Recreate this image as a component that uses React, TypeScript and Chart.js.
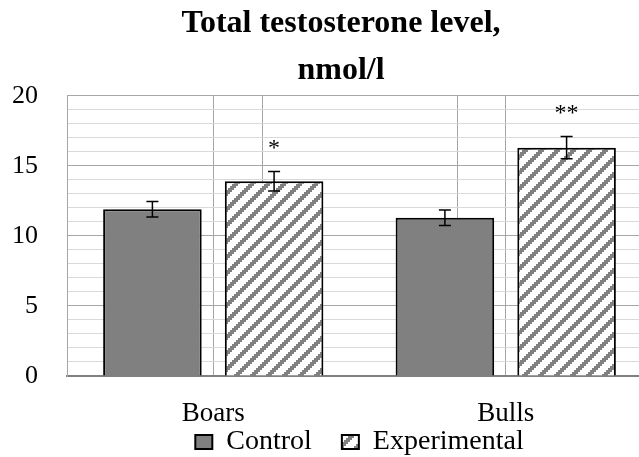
import React, { useEffect, useRef } from 'react';
import { Chart, registerables } from 'chart.js';

Chart.register(...registerables);

const categories = ['Boars', 'Bulls'];
const controlValues = [11.9, 11.3];
const controlErrors = [0.55, 0.55];
const experimentalValues = [13.9, 16.3];
const experimentalErrors = [0.7, 0.8];
const experimentalMarks = ['*', '**'];
const titleLines = ['Total testosterone level,', 'nmol/l'];
const seriesNames = ['Control', 'Experimental'];

const FONT = "'Liberation Serif', 'Times New Roman', serif";

function makeStripePattern(): CanvasPattern | string {
  const c = document.createElement('canvas');
  c.width = 16;
  c.height = 16;
  const g = c.getContext('2d');
  if (!g) return '#bfbfbf';
  g.fillStyle = '#ffffff';
  g.fillRect(0, 0, 16, 16);
  g.fillStyle = '#808080';
  for (let by = 0; by < 8; by++) {
    for (let bx = 0; bx < 8; bx++) {
      if ((bx + by) % 8 < 3) g.fillRect(bx * 2, by * 2, 2, 2);
    }
  }
  const p = g.createPattern(c, 'repeat');
  return p || '#bfbfbf';
}

const legendShiftPlugin = {
  id: 'legendShift',
  afterLayout(chart: any) {
    const l = chart.legend;
    if (l) {
      l.top -= 28;
      l.bottom -= 28;
    }
  },
};

const errorBarPlugin = {
  id: 'errorBars',
  afterDatasetsDraw(chart: any) {
    const ctx = chart.ctx;
    const yScale = chart.scales.y;
    const errs = [controlErrors, experimentalErrors];
    const vals = [controlValues, experimentalValues];
    ctx.save();
    ctx.strokeStyle = '#000';
    ctx.lineWidth = 1.5;
    for (let d = 0; d < 2; d++) {
      const meta = chart.getDatasetMeta(d);
      meta.data.forEach((bar: any, j: number) => {
        const x = bar.x;
        const top = yScale.getPixelForValue(vals[d][j] + errs[d][j]);
        const bot = yScale.getPixelForValue(vals[d][j] - errs[d][j]);
        ctx.beginPath();
        ctx.moveTo(x, top);
        ctx.lineTo(x, bot);
        ctx.moveTo(x - 6, top);
        ctx.lineTo(x + 6, top);
        ctx.moveTo(x - 6, bot);
        ctx.lineTo(x + 6, bot);
        ctx.stroke();
      });
    }
    // significance marks
    const meta = chart.getDatasetMeta(1);
    ctx.fillStyle = '#000';
    ctx.font = `24px ${FONT}`;
    ctx.textAlign = 'center';
    ctx.textBaseline = 'middle';
    meta.data.forEach((bar: any, j: number) => {
      const top = yScale.getPixelForValue(experimentalValues[j] + experimentalErrors[j]);
      ctx.fillText(experimentalMarks[j], bar.x, top - 23);
    });
    ctx.restore();
  },
};

export default function App() {
  const ref = useRef<HTMLCanvasElement>(null);

  useEffect(() => {
    if (!ref.current) return;
    const pattern = makeStripePattern();
    const chart = new Chart(ref.current, {
      type: 'bar',
      data: {
        labels: categories,
        datasets: [
          {
            label: seriesNames[0],
            data: controlValues,
            backgroundColor: '#808080',
            borderColor: '#000000',
            borderWidth: 2,
            categoryPercentage: 0.832,
            barPercentage: 0.81,
          },
          {
            label: seriesNames[1],
            data: experimentalValues,
            backgroundColor: pattern as any,
            borderColor: '#000000',
            borderWidth: 2,
            categoryPercentage: 0.832,
            barPercentage: 0.81,
          },
        ],
      },
      options: {
        responsive: false,
        animation: false,
        devicePixelRatio: 1,
        layout: { padding: 0 },
        plugins: {
          title: {
            display: true,
            text: titleLines,
            color: '#000',
            font: { family: FONT, size: 32, weight: 'bold', lineHeight: 1.45 },
            padding: { top: 1, bottom: 2 },
          },
          legend: {
            display: true,
            position: 'bottom',
            fullSize: false,
            labels: {
              color: '#000',
              font: { family: FONT, size: 28 },
              boxWidth: 17,
              boxHeight: 14,
              padding: 30,
            },
          },
          tooltip: { enabled: false },
        },
        scales: {
          x: {
            offset: true,
            grid: { offset: false, color: '#a6a6a6', drawTicks: false },
            border: { display: true, color: '#808080', width: 2 },
            ticks: {
              color: '#000',
              font: { family: FONT, size: 27 },
              padding: 22,
            },
            afterFit: (s: any) => {
              s.height = 50;
            },
          },
          x2: {
            type: 'linear',
            position: 'bottom',
            min: 0,
            max: 2,
            ticks: { display: false, stepSize: 1 },
            grid: { color: '#a6a6a6', drawTicks: false },
            border: { display: false },
            afterFit: (s: any) => {
              s.height = 0;
            },
          },
          y: {
            min: 0,
            max: 20,
            ticks: {
              stepSize: 1,
              autoSkip: false,
              padding: 29,
              color: '#000',
              font: { family: FONT, size: 26 },
              callback: (v: any) => (Number(v) % 5 === 0 ? String(v) : ''),
            },
            grid: {
              drawTicks: false,
              color: (c: any) => (c.tick && c.tick.value % 5 === 0 ? '#a6a6a6' : '#d9d9d9'),
            },
            border: { display: true, color: '#a6a6a6' },
            afterFit: (s: any) => {
              s.width = 67;
            },
          },
          y2: {
            type: 'linear',
            position: 'right',
            display: true,
            ticks: { display: false },
            grid: { display: false },
            border: { display: false },
            afterFit: (s: any) => {
              s.width = 30;
            },
          },
        },
      } as any,
      plugins: [errorBarPlugin, legendShiftPlugin],
    });
    return () => chart.destroy();
  }, []);

  return (
    <div
      style={{
        position: 'fixed',
        left: 0,
        top: 0,
        width: 639,
        height: 457,
        overflow: 'hidden',
        background: '#fff',
      }}
    >
      <canvas ref={ref} width={682} height={494} style={{ display: 'block', width: 682, height: 494 }} />
    </div>
  );
}
